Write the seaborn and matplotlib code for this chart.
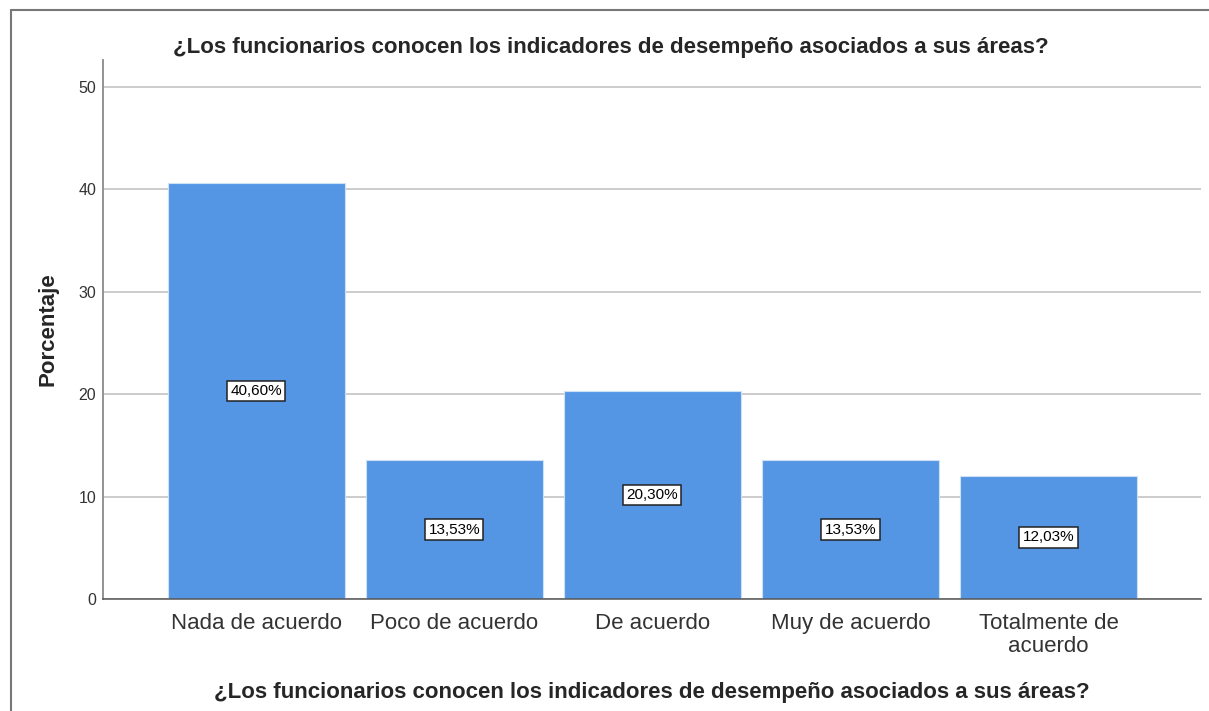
import pandas as pd
import matplotlib
matplotlib.use('Agg')
import matplotlib.pyplot as plt
import seaborn as sns
from matplotlib.lines import Line2D

# datos
categorias = ['Nada de acuerdo', 'Poco de acuerdo', 'De acuerdo', 'Muy de acuerdo', 'Totalmente de\nacuerdo']
porcentajes = [40.60, 13.53, 20.30, 13.53, 12.03]
etiquetas = ['40,60%', '13,53%', '20,30%', '13,53%', '12,03%']
y_ticks = [0, 10, 20, 30, 40, 50]

titulo = '¿Los funcionarios conocen los indicadores de desempeño asociados a sus áreas?'

sns.set_style('white')
plt.rcParams['font.family'] = ['Liberation Sans', 'DejaVu Sans']

df = pd.DataFrame({'categoria': categorias, 'porcentaje': porcentajes})

fig = plt.figure(figsize=(12.09, 7.11), dpi=100)
ax = fig.add_axes([0.0852, 0.1575, 0.9082, 0.7581])

sns.barplot(data=df, x='categoria', y='porcentaje', color='#5596E4', saturation=1,
            width=0.894, edgecolor='#cfe0f5', linewidth=0.8, ax=ax, zorder=2)

ax.set_ylim(0, 52.6)
ax.set_xlim(-0.773, 4.77)
ax.set_yticks(y_ticks)
ax.yaxis.grid(True, color='#c8c8c8', linewidth=1.3, zorder=0)
ax.set_axisbelow(True)

for s in ['top', 'right']:
    ax.spines[s].set_visible(False)
ax.spines['left'].set_color('#8a8a8a')
ax.spines['left'].set_linewidth(1.3)
ax.spines['bottom'].set_color('#555555')
ax.spines['bottom'].set_linewidth(1.1)

ax.tick_params(axis='y', length=0, pad=5, labelsize=11.5, labelcolor='#333333')
ax.tick_params(axis='x', length=0, pad=10, labelsize=16, labelcolor='#333333')
for lbl in ax.get_xticklabels():
    lbl.set_linespacing(1.1)

ax.set_xlabel(titulo, fontsize=16, fontweight='bold', labelpad=18)
ax.set_ylabel('Porcentaje', fontsize=16, fontweight='bold', labelpad=14)

for i, (v, t) in enumerate(zip(porcentajes, etiquetas)):
    ax.text(i, v / 2, t, ha='center', va='center', fontsize=11, color='black', zorder=5,
            bbox=dict(boxstyle='square,pad=0.22', facecolor='white', edgecolor='#222222', linewidth=1.1))

fig.text(0.505, 0.933, titulo, ha='center', va='center', fontsize=16, fontweight='bold')

# marco exterior
fig.add_artist(Line2D([11 / 1209, 11 / 1209], [0, 1 - 10 / 711], color='#777777', linewidth=1.5))
fig.add_artist(Line2D([11 / 1209, 1], [1 - 10 / 711, 1 - 10 / 711], color='#777777', linewidth=1.5))

fig.savefig('out.png', dpi=100)
